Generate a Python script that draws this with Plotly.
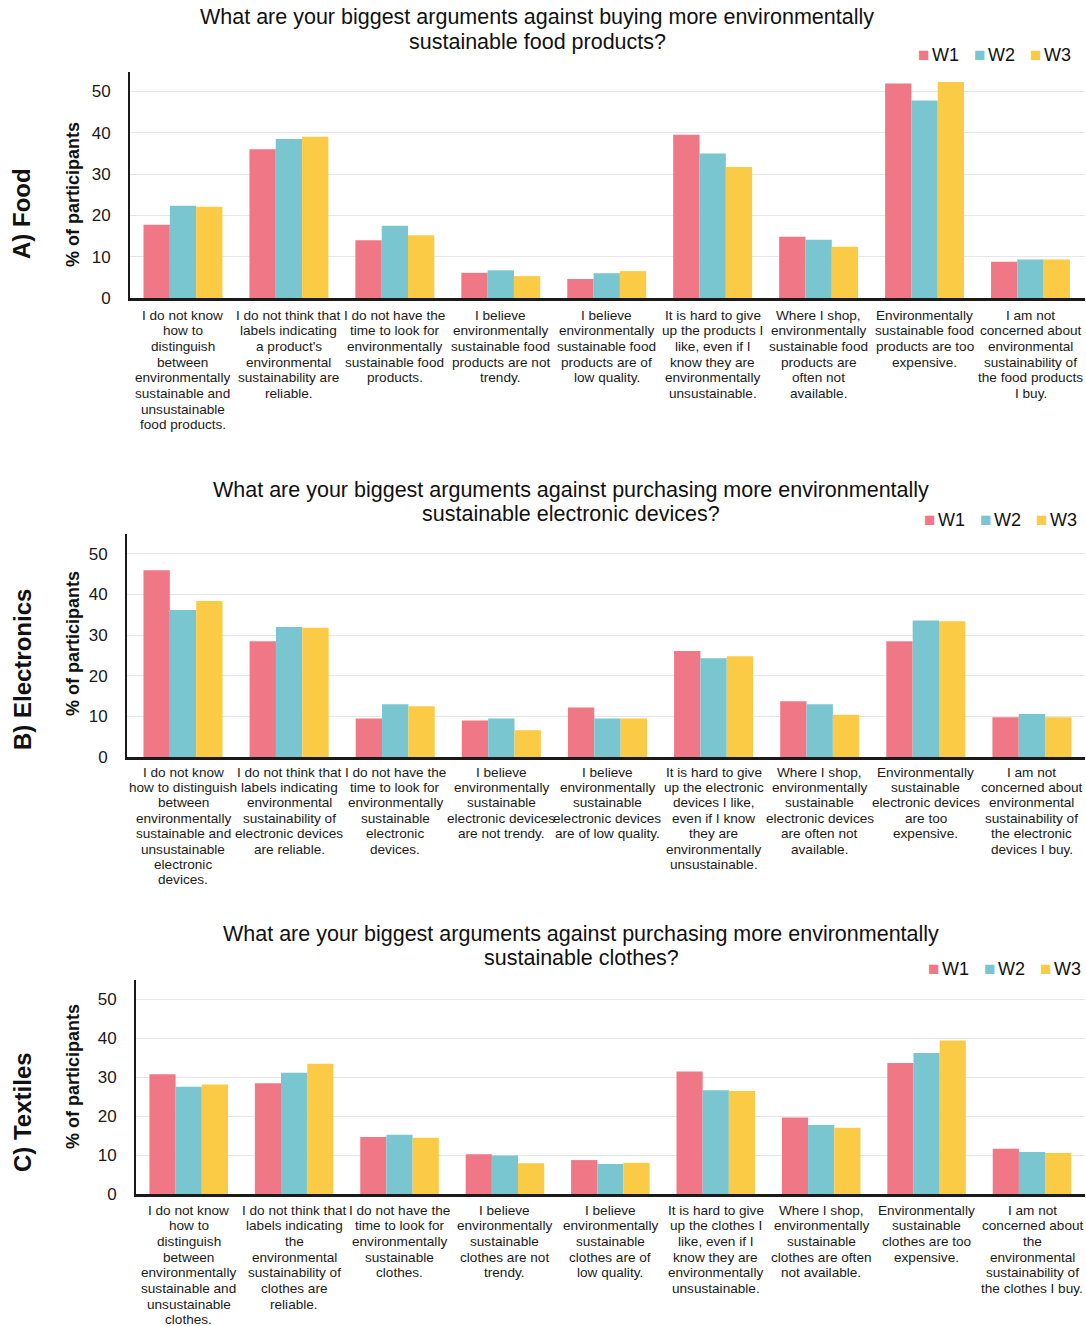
import plotly.graph_objects as go

W, H = 1086, 1326

# ---- data -----------------------------------------------------------------
waves = ["W1", "W2", "W3"]
wave_colors = ["#F07886", "#7AC6D0", "#FCCB45"]

food_labels = [
    "I do not know\nhow to\ndistinguish\nbetween\nenvironmentally\nsustainable and\nunsustainable\nfood products.",
    "I do not think that\nlabels indicating\na product's\nenvironmental\nsustainability are\nreliable.",
    "I do not have the\ntime to look for\nenvironmentally\nsustainable food\nproducts.",
    "I believe\nenvironmentally\nsustainable food\nproducts are not\ntrendy.",
    "I believe\nenvironmentally\nsustainable food\nproducts are of\nlow quality.",
    "It is hard to give\nup the products I\nlike, even if I\nknow they are\nenvironmentally\nunsustainable.",
    "Where I shop,\nenvironmentally\nsustainable food\nproducts are\noften not\navailable.",
    "Environmentally\nsustainable food\nproducts are too\nexpensive.",
    "I am not\nconcerned about\nenvironmental\nsustainability of\nthe food products\nI buy.",
]
food_w1 = [17.7, 36.0, 14.0, 6.1, 4.6, 39.5, 14.8, 51.9, 8.8]
food_w2 = [22.3, 38.5, 17.5, 6.7, 6.0, 35.0, 14.1, 47.8, 9.3]
food_w3 = [22.1, 39.0, 15.2, 5.3, 6.5, 31.7, 12.4, 52.3, 9.3]

elec_labels = [
    "I do not know\nhow to distinguish\nbetween\nenvironmentally\nsustainable and\nunsustainable\nelectronic\ndevices.",
    "I do not think that\nlabels indicating\nenvironmental\nsustainability of\nelectronic devices\nare reliable.",
    "I do not have the\ntime to look for\nenvironmentally\nsustainable\nelectronic\ndevices.",
    "I believe\nenvironmentally\nsustainable\nelectronic devices\nare not trendy.",
    "I believe\nenvironmentally\nsustainable\nelectronic devices \nare of low quality.",
    "It is hard to give\nup the electronic\ndevices I like,\neven if I know\nthey are\nenvironmentally\nunsustainable.",
    "Where I shop,\nenvironmentally\nsustainable\nelectronic devices\nare often not\navailable.",
    "Environmentally\nsustainable\nelectronic devices\nare too\nexpensive.",
    "I am not\nconcerned about\nenvironmental\nsustainability of\nthe electronic\ndevices I buy.",
]
elec_w1 = [46.0, 28.5, 9.5, 9.0, 12.2, 26.1, 13.7, 28.5, 9.8]
elec_w2 = [36.2, 32.0, 13.0, 9.5, 9.5, 24.3, 13.0, 33.6, 10.6]
elec_w3 = [38.4, 31.8, 12.5, 6.6, 9.5, 24.8, 10.4, 33.4, 9.8]

text_labels = [
    "I do not know\nhow to\ndistinguish\nbetween\nenvironmentally\nsustainable and\nunsustainable\nclothes.",
    "I do not think that\nlabels indicating\nthe\nenvironmental\nsustainability of\nclothes are\nreliable.",
    "I do not have the\ntime to look for\nenvironmentally\nsustainable\nclothes.",
    "I believe\nenvironmentally\nsustainable\nclothes are not\ntrendy.",
    "I believe\nenvironmentally\nsustainable\nclothes are of\nlow quality.",
    "It is hard to give\nup the clothes I\nlike, even if I\nknow they are\nenvironmentally\nunsustainable.",
    "Where I shop,\nenvironmentally\nsustainable\nclothes are often\nnot available.",
    "Environmentally\nsustainable\nclothes are too\nexpensive.",
    "I am not\nconcerned about\nthe\nenvironmental\nsustainability of\nthe clothes I buy.",
]
text_w1 = [30.7, 28.4, 14.6, 10.2, 8.7, 31.4, 19.6, 33.6, 11.6]
text_w2 = [27.5, 31.1, 15.2, 9.9, 7.7, 26.6, 17.7, 36.2, 10.8]
text_w3 = [28.1, 33.4, 14.4, 7.9, 8.0, 26.4, 17.0, 39.4, 10.5]

y_ticks = [0, 10, 20, 30, 40, 50]

panel_names = ["A) Food", "B) Electronics", "C) Textiles"]
panel_titles = [
    ["What are your biggest arguments against buying more environmentally",
     "sustainable food products?"],
    ["What are your biggest arguments against purchasing more environmentally",
     "sustainable electronic devices?"],
    ["What are your biggest arguments against purchasing more environmentally",
     "sustainable clothes?"],
]

panels = [
    (food_labels, [food_w1, food_w2, food_w3]),
    (elec_labels, [elec_w1, elec_w2, elec_w3]),
    (text_labels, [text_w1, text_w2, text_w3]),
]

# ---- layout geometry (pixels) ---------------------------------------------
geom = [
    dict(l=130, r=1085, t=72, b=298, title_x=537, title_y=(17, 42),
         legend_x=1073, legend_y=55, label_y=214, ytitle_y=195, lab_off=17, lab_lh=15.7),
    dict(l=127, r=1085, t=534, b=757, title_x=571, title_y=(490, 514),
         legend_x=1079, legend_y=520, label_y=670, ytitle_y=644, lab_off=15, lab_lh=15.4),
    dict(l=136, r=1085, t=980, b=1194, title_x=581, title_y=(934, 958),
         legend_x=1083, legend_y=968, label_y=1112, ytitle_y=1077, lab_off=16, lab_lh=15.7),
]
y_top = [54.7, 54.9, 54.9]

FONT = "Liberation Sans, Arial, Helvetica, sans-serif"


def px_x(v):
    return v / W


def px_y(v):
    return 1 - v / H


fig = go.Figure()
annotations = []

for p, ((labels, series), g) in enumerate(zip(panels, geom)):
    sfx = "" if p == 0 else str(p + 1)
    xa, ya = "x" + sfx, "y" + sfx
    for name, color, vals in zip(waves, wave_colors, series):
        fig.add_trace(go.Bar(
            x=labels, y=vals, name=name, marker_color=color,
            marker_line_width=0, xaxis=xa, yaxis=ya, showlegend=False,
        ))

    fig.layout["xaxis" + sfx] = dict(
        domain=[px_x(g["l"]), px_x(g["r"])], anchor=ya, automargin=False,
        showticklabels=False, showline=True, linecolor="#1a1a1a", linewidth=2.5,
        ticks="", showgrid=False, fixedrange=True,
    )
    fig.layout["yaxis" + sfx] = dict(
        domain=[px_y(g["b"]), px_y(g["t"])], anchor=xa, automargin=False,
        range=[0, y_top[p]], tickvals=y_ticks, showline=True,
        linecolor="#1a1a1a", linewidth=2, showgrid=True, gridcolor="#E6E6E6",
        gridwidth=1, zeroline=False, ticks="", ticklabelstandoff=14,
        tickfont=dict(family=FONT, size=17, color="#1a1a1a"), fixedrange=True,
    )

    # multi-line category labels under each group
    for lab in labels:
        for i, line in enumerate(lab.split("\n")):
            annotations.append(dict(
                x=lab, xref=xa, y=0, yref=ya + " domain", text=line.strip(),
                showarrow=False, xanchor="center", yanchor="middle",
                yshift=-(g["lab_off"] + i * g["lab_lh"]),
                font=dict(family=FONT, size=13.6, color="#1a1a1a"),
            ))

    # chart title, two centred lines
    for line, ty in zip(panel_titles[p], g["title_y"]):
        annotations.append(dict(
            x=px_x(g["title_x"]), y=px_y(ty), xref="paper", yref="paper",
            text=line, showarrow=False, xanchor="center", yanchor="middle",
            font=dict(family=FONT, size=21.5, color="#111111"),
        ))

    # wave key: coloured square followed by the wave name
    key = "   ".join(
        f"<span style='color:{c};font-size:19px'>■</span>"
        f"<span style='font-size:9px'> </span>{n}"
        for n, c in zip(waves, wave_colors)
    )
    annotations.append(dict(
        x=px_x(g["legend_x"]), y=px_y(g["legend_y"]), xref="paper", yref="paper",
        text=key, showarrow=False, xanchor="right", yanchor="middle",
        font=dict(family=FONT, size=18, color="#111111"),
    ))

    # y-axis title
    annotations.append(dict(
        x=px_x(73), y=px_y(g["ytitle_y"]), xref="paper", yref="paper",
        text="<b>% of participants</b>", showarrow=False, textangle=-90,
        xanchor="center", yanchor="middle",
        font=dict(family=FONT, size=18, color="#111111"),
    ))

    # panel name
    annotations.append(dict(
        x=px_x(22), y=px_y(g["label_y"]), xref="paper", yref="paper",
        text=f"<b>{panel_names[p]}</b>", showarrow=False, textangle=-90,
        xanchor="center", yanchor="middle",
        font=dict(family=FONT, size=24, color="#111111"),
    ))

fig.update_layout(
    width=W, height=H, margin=dict(l=0, r=0, t=0, b=0, autoexpand=False),
    paper_bgcolor="white", plot_bgcolor="white",
    barmode="group", bargap=0.255, bargroupgap=0,
    annotations=annotations, font=dict(family=FONT),
)

fig.write_html("out.html", config={"displayModeBar": False})
